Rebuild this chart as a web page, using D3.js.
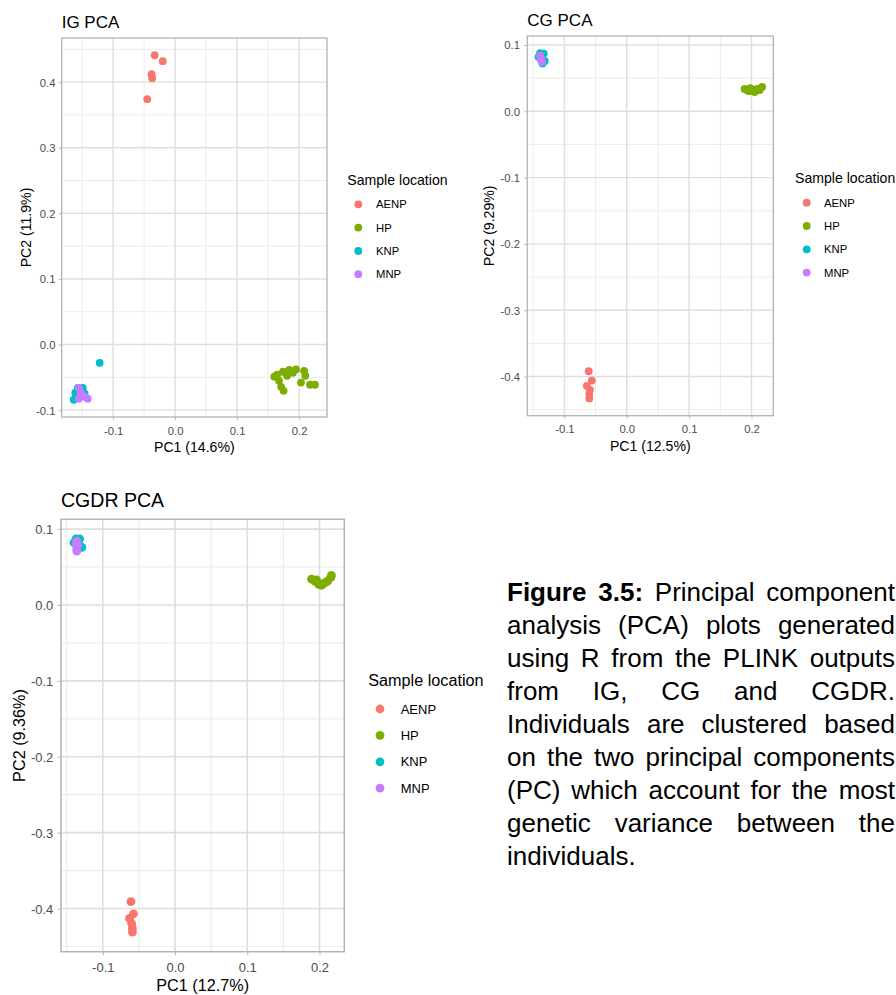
<!DOCTYPE html>
<html>
<head>
<meta charset="utf-8">
<script src="https://cdn.jsdelivr.net/npm/d3@7"></script>
<style>
  body { margin: 0; background: #ffffff; }
  svg { display: block; }
  text { font-family: "Liberation Sans", Arial, sans-serif; }
</style>
</head>
<body>
<svg id="fig" width="896" height="995"></svg>
<script>
// Sample locations and their ggplot-style hue colours
const locations = ["AENP", "HP", "KNP", "MNP"];
const locationColors = ["#F8766D", "#7CAE00", "#00BFC4", "#C77CFF"];

// Tick values
const xTickValues = [-0.1, 0.0, 0.1, 0.2];
const yTicksIG = [-0.1, 0.0, 0.1, 0.2, 0.3, 0.4];
const yTicksCG = [-0.4, -0.3, -0.2, -0.1, 0.0, 0.1];

// IG: [PC1, PC2] per individual
const igAENP = [[-0.033, 0.441], [-0.020, 0.432], [-0.038, 0.412], [-0.037, 0.406], [-0.045, 0.374]];
const igHP = [[0.1645, -0.046], [0.174, -0.0415], [0.184, -0.0385], [0.190, -0.043], [0.195, -0.0378],
              [0.208, -0.040], [0.210, -0.0476], [0.203, -0.058], [0.2175, -0.0613], [0.2255, -0.0613],
              [0.1677, -0.0553], [0.171, -0.0644], [0.175, -0.0705], [0.160, -0.049], [0.1805, -0.0476]];
const igKNP = [[-0.1635, -0.0842], [-0.161, -0.0735], [-0.157, -0.066], [-0.149, -0.066], [-0.146, -0.075], [-0.1217, -0.0279]];
const igMNP = [[-0.1555, -0.066], [-0.1524, -0.0735], [-0.1555, -0.0826], [-0.146, -0.0796], [-0.141, -0.0826], [-0.151, -0.078]];

// CG
const cgAENP = [[-0.061, -0.392], [-0.056, -0.406], [-0.064, -0.414], [-0.059, -0.420], [-0.060, -0.426], [-0.060, -0.433]];
const cgHP = [[0.189, 0.0336], [0.194, 0.031], [0.197, 0.0306], [0.201, 0.033], [0.205, 0.029],
              [0.209, 0.0336], [0.213, 0.032], [0.217, 0.0367], [0.198, 0.035]];
const cgKNP = [[-0.1415, 0.082], [-0.139, 0.0875], [-0.133, 0.087], [-0.1315, 0.076], [-0.135, 0.072]];
const cgMNP = [[-0.139, 0.084], [-0.137, 0.079], [-0.136, 0.074], [-0.138, 0.078]];

// CGDR
const cgdrAENP = [[-0.061, -0.391], [-0.0575, -0.407], [-0.063, -0.413], [-0.060, -0.420], [-0.059, -0.426], [-0.059, -0.431]];
const cgdrHP = [[0.189, 0.034], [0.194, 0.031], [0.199, 0.027], [0.203, 0.026], [0.207, 0.029],
                [0.211, 0.031], [0.2155, 0.036], [0.2165, 0.039], [0.196, 0.033]];
const cgdrKNP = [[-0.140, 0.082], [-0.137, 0.087], [-0.132, 0.087], [-0.129, 0.076], [-0.133, 0.080]];
const cgdrMNP = [[-0.137, 0.080], [-0.136, 0.074], [-0.135, 0.0785], [-0.136, 0.084], [-0.136, 0.071]];

// Caption lines (first two words set in bold)
const captionLines = [
  "Figure 3.5: Principal component",
  "analysis (PCA) plots generated",
  "using R from the PLINK outputs",
  "from IG, CG and CGDR.",
  "Individuals are clustered based",
  "on the two principal components",
  "(PC) which account for the most",
  "genetic variance between the",
  "individuals."
];

const svg = d3.select("#fig");
svg.append("rect").attr("width", 896).attr("height", 995).attr("fill", "#ffffff");

const fmt = d => (Math.abs(d) < 1e-9 ? 0 : d).toFixed(1);

// ggplot-like default expansion: 5% of the data range on each side
function expanded(vals) {
  const [lo, hi] = d3.extent(vals);
  const pad = (hi - lo) * 0.05;
  return [lo - pad, hi + pad];
}

function minorBreaks(majors, domain) {
  const step = majors[1] - majors[0];
  const out = [];
  for (let v = majors[0] - step / 2; v <= majors[majors.length - 1] + step / 2 + 1e-9; v += step) {
    if (v >= domain[0] && v <= domain[1]) out.push(v);
  }
  return out;
}

function drawPanel(o) {
  const g = svg.append("g");
  const all = o.series.flat();
  const xDom = expanded(all.map(d => d[0]));
  const yDom = expanded(all.map(d => d[1]));
  const x = d3.scaleLinear().domain(xDom).range([o.box.l, o.box.r]);
  const y = d3.scaleLinear().domain(yDom).range([o.box.b, o.box.t]);
  const s = o.k;

  const xMaj = xTickValues.filter(v => v >= xDom[0] && v <= xDom[1]);
  const yMaj = o.yTicks.filter(v => v >= yDom[0] && v <= yDom[1]);

  // minor grid
  g.selectAll(null).data(minorBreaks(xMaj, xDom)).join("line")
    .attr("x1", d => x(d)).attr("x2", d => x(d)).attr("y1", o.box.t).attr("y2", o.box.b)
    .attr("stroke", "#ececec").attr("stroke-width", 1.0 * s);
  g.selectAll(null).data(minorBreaks(yMaj, yDom)).join("line")
    .attr("y1", d => y(d)).attr("y2", d => y(d)).attr("x1", o.box.l).attr("x2", o.box.r)
    .attr("stroke", "#ececec").attr("stroke-width", 1.0 * s);
  // major grid
  g.selectAll(null).data(xMaj).join("line")
    .attr("x1", d => x(d)).attr("x2", d => x(d)).attr("y1", o.box.t).attr("y2", o.box.b)
    .attr("stroke", "#dedede").attr("stroke-width", 1.4 * s);
  g.selectAll(null).data(yMaj).join("line")
    .attr("y1", d => y(d)).attr("y2", d => y(d)).attr("x1", o.box.l).attr("x2", o.box.r)
    .attr("stroke", "#dedede").attr("stroke-width", 1.4 * s);

  // points, drawn location by location
  o.series.forEach((pts, i) => {
    g.selectAll(null).data(pts).join("circle")
      .attr("cx", d => x(d[0])).attr("cy", d => y(d[1])).attr("r", o.r)
      .attr("fill", locationColors[i]);
  });

  // panel border
  g.append("rect").attr("x", o.box.l).attr("y", o.box.t)
    .attr("width", o.box.r - o.box.l).attr("height", o.box.b - o.box.t)
    .attr("fill", "none").attr("stroke", "#b3b3b3").attr("stroke-width", 1.3 * s);

  // axes
  const xAxis = d3.axisBottom(x).tickValues(xMaj).tickFormat(fmt).tickSize(3 * s).tickPadding(2);
  const yAxis = d3.axisLeft(y).tickValues(yMaj).tickFormat(fmt).tickSize(3 * s).tickPadding(2);
  const gx = g.append("g").attr("transform", `translate(0,${o.box.b})`).call(xAxis);
  const gy = g.append("g").attr("transform", `translate(${o.box.l},0)`).call(yAxis);
  [gx, gy].forEach(a => {
    a.select(".domain").remove();
    a.selectAll(".tick line").attr("stroke", "#b3b3b3").attr("stroke-width", 1);
    a.selectAll(".tick text").attr("fill", "#4d4d4d").attr("font-size", 11.3 * s);
  });
  gx.selectAll(".tick text").attr("y", o.xTickY - o.box.b).attr("dy", "0.35em");
  gy.selectAll(".tick text").attr("x", o.yTickRight - o.box.l).attr("dy", "0.35em");

  // titles
  g.append("text").attr("x", o.box.l).attr("y", o.titleY).attr("font-size", 17 * s)
    .attr("fill", "#000").text(o.title);
  g.append("text").attr("x", (o.box.l + o.box.r) / 2).attr("y", o.xTitleY).attr("dy", "0.35em")
    .attr("text-anchor", "middle").attr("font-size", 14.1 * s).attr("fill", "#000").text(o.xLabel);
  g.append("text").attr("transform", `translate(${o.yTitleX},${(o.box.t + o.box.b) / 2}) rotate(-90)`)
    .attr("dy", "0.35em").attr("text-anchor", "middle").attr("font-size", 14.1 * s)
    .attr("fill", "#000").text(o.yLabel);

  // legend
  const L = o.legend;
  g.append("text").attr("x", L.x).attr("y", L.titleY).attr("dy", "0.35em")
    .attr("font-size", 14.1 * s).attr("fill", "#000").text("Sample location");
  const items = g.selectAll(null).data(locations).join("g")
    .attr("transform", (d, i) => `translate(0,${L.rowY + i * L.step})`);
  items.append("circle").attr("cx", L.dotX).attr("cy", 0).attr("r", o.r)
    .attr("fill", (d, i) => locationColors[i]);
  items.append("text").attr("x", L.labelX).attr("y", 0).attr("dy", "0.35em")
    .attr("font-size", 11.3 * s).attr("fill", "#000").text(d => d);
}

drawPanel({
  title: "IG PCA", xLabel: "PC1 (14.6%)", yLabel: "PC2 (11.9%)",
  series: [igAENP, igHP, igKNP, igMNP], yTicks: yTicksIG,
  box: { l: 61.7, t: 38, r: 327, b: 417 }, k: 1, r: 3.9,
  titleY: 27.7, xTickY: 430.7, xTitleY: 447, yTickRight: 55.5, yTitleX: 25.7,
  legend: { x: 347.3, titleY: 180, dotX: 358.3, labelX: 376, rowY: 204.3, step: 23.3 }
});

drawPanel({
  title: "CG PCA", xLabel: "PC1 (12.5%)", yLabel: "PC2 (9.29%)",
  series: [cgAENP, cgHP, cgKNP, cgMNP], yTicks: yTicksCG,
  box: { l: 527.3, t: 36, r: 773.3, b: 415.7 }, k: 1, r: 3.9,
  titleY: 26, xTickY: 429.3, xTitleY: 446, yTickRight: 520, yTitleX: 489.3,
  legend: { x: 795, titleY: 178, dotX: 806.7, labelX: 824, rowY: 202.7, step: 23.3 }
});

drawPanel({
  title: "CGDR PCA", xLabel: "PC1 (12.7%)", yLabel: "PC2 (9.36%)",
  series: [cgdrAENP, cgdrHP, cgdrKNP, cgdrMNP], yTicks: yTicksCG,
  box: { l: 61, t: 519.3, r: 344.3, b: 951.7 }, k: 1.15, r: 4.4,
  titleY: 506.7, xTickY: 967.3, xTitleY: 985.7, yTickRight: 53.3, yTitleX: 19,
  legend: { x: 368.3, titleY: 680, dotX: 380, labelX: 400.7, rowY: 709, step: 26.4 }
});

// Justified caption block
(function caption() {
  const left = 507, right = 895, base = 601, lead = 33, size = 26;
  const cap = svg.append("g").attr("font-size", size).attr("fill", "#000");
  captionLines.forEach((line, li) => {
    const words = line.split(" ");
    const nodes = words.map((w, wi) => cap.append("text")
      .attr("y", base + li * lead)
      .attr("font-weight", li === 0 && wi < 2 ? "bold" : "normal")
      .text(w));
    const widths = nodes.map(n => n.node().getComputedTextLength());
    const total = d3.sum(widths);
    const last = li === captionLines.length - 1;
    const gap = last || words.length < 2 ? size * 0.278 : (right - left - total) / (words.length - 1);
    let xPos = left;
    nodes.forEach((n, i) => { n.attr("x", xPos); xPos += widths[i] + gap; });
  });
})();
</script>
</body>
</html>
